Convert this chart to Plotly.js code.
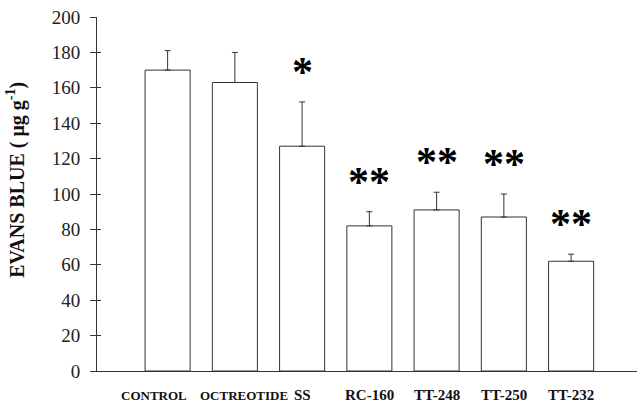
<!DOCTYPE html>
<html>
<head>
<meta charset="utf-8">
<script src="https://cdn.plot.ly/plotly-3.0.1.min.js"></script>
<style>
  html, body { margin: 0; padding: 0; background: #fff; }
  #chart { width: 640px; height: 407px; }
</style>
</head>
<body>
<div id="chart"></div>
<script>
// ─────────────────────────────
// DATOS
// ─────────────────────────────
const grupos = ['CONTROL', 'OCTREOTIDE', 'SS', 'RC-160', 'TT-248', 'TT-250', 'TT-232'];
const medias = [170, 163, 127, 82, 91, 87, 62];
const errores = [11, 17, 25, 8, 10, 13, 4];
const significancia = ['', '', '*', '**', '**', '**', '**'];
const yTicks = [0, 20, 40, 60, 80, 100, 120, 140, 160, 180, 200];

const SERIF = '"Liberation Serif", "Times New Roman", serif';
const LINEA = '#333';

// las dos primeras etiquetas no caben centradas: se separan un poco y van más pequeñas
const DESPLAZA_ETIQUETA = { CONTROL: -14, OCTREOTIDE: 9 };
const TAMANO_ETIQUETA = { CONTROL: 13, OCTREOTIDE: 13 };

// ─────────────────────────────
// TRAZAS
// ─────────────────────────────
const barras = {
  type: 'bar',
  x: grupos,
  y: medias,
  width: 0.67,
  marker: { color: '#fff', line: { color: LINEA, width: 1 } },
  error_y: {
    type: 'data',
    array: errores,
    arrayminus: errores.map(() => 0),
    symmetric: false,
    color: LINEA,
    thickness: 1,
    width: 3
  },
  hoverinfo: 'skip'
};

// asteriscos de significancia sobre cada barra
const asteriscos = grupos.map((g, i) => ({
  x: g,
  y: medias[i] + errores[i],
  text: significancia[i],
  showarrow: false,
  xanchor: 'center',
  yanchor: 'bottom',
  yshift: 5,
  font: { family: SERIF, size: 42, color: '#000', weight: 'bold' }
})).filter(a => a.text);

// etiquetas del eje x como anotaciones
const etiquetas = grupos.map(g => ({
  x: g,
  xref: 'x',
  y: 0,
  yref: 'paper',
  text: g,
  showarrow: false,
  xanchor: 'center',
  yanchor: 'middle',
  xshift: DESPLAZA_ETIQUETA[g] || 0,
  yshift: -24,
  font: { family: SERIF, size: TAMANO_ETIQUETA[g] || 15, color: '#111', weight: 'bold' }
}));

const layout = {
  width: 640,
  height: 407,
  margin: { l: 97, r: 3, t: 17, b: 36 },
  paper_bgcolor: '#fff',
  plot_bgcolor: '#fff',
  showlegend: false,
  xaxis: {
    type: 'category',
    range: [-1.05, 6.98],
    showline: true,
    linecolor: LINEA,
    linewidth: 1,
    ticks: '',
    showticklabels: false,
    showgrid: false,
    zeroline: false
  },
  yaxis: {
    range: [0, 200],
    tickvals: yTicks,
    showline: true,
    linecolor: LINEA,
    linewidth: 1,
    ticks: 'outside',
    ticklen: 6,
    tickcolor: LINEA,
    showgrid: false,
    zeroline: false,
    ticklabelstandoff: 6,
    tickfont: { family: SERIF, size: 19, color: '#222' }
  },
  // ticks interiores para que crucen el eje
  yaxis2: {
    overlaying: 'y',
    range: [0, 200],
    tickvals: yTicks,
    ticks: 'inside',
    ticklen: 4,
    tickcolor: LINEA,
    showticklabels: false,
    showgrid: false,
    zeroline: false,
    showline: false
  },
  annotations: [
    {
      xref: 'paper', yref: 'paper',
      x: -0.15, y: 0.54,
      xanchor: 'center', yanchor: 'middle',
      text: 'EVANS BLUE ( μg g<sup>-1</sup>)',
      textangle: -90,
      showarrow: false,
      font: { family: SERIF, size: 20, color: '#111', weight: 'bold' }
    },
    ...asteriscos,
    ...etiquetas
  ]
};

// traza vacía para activar yaxis2
const dummy = { type: 'scatter', x: [grupos[0]], y: [null], yaxis: 'y2', hoverinfo: 'skip' };

Plotly.newPlot('chart', [barras, dummy], layout, { displayModeBar: false, staticPlot: true });
</script>
</body>
</html>
